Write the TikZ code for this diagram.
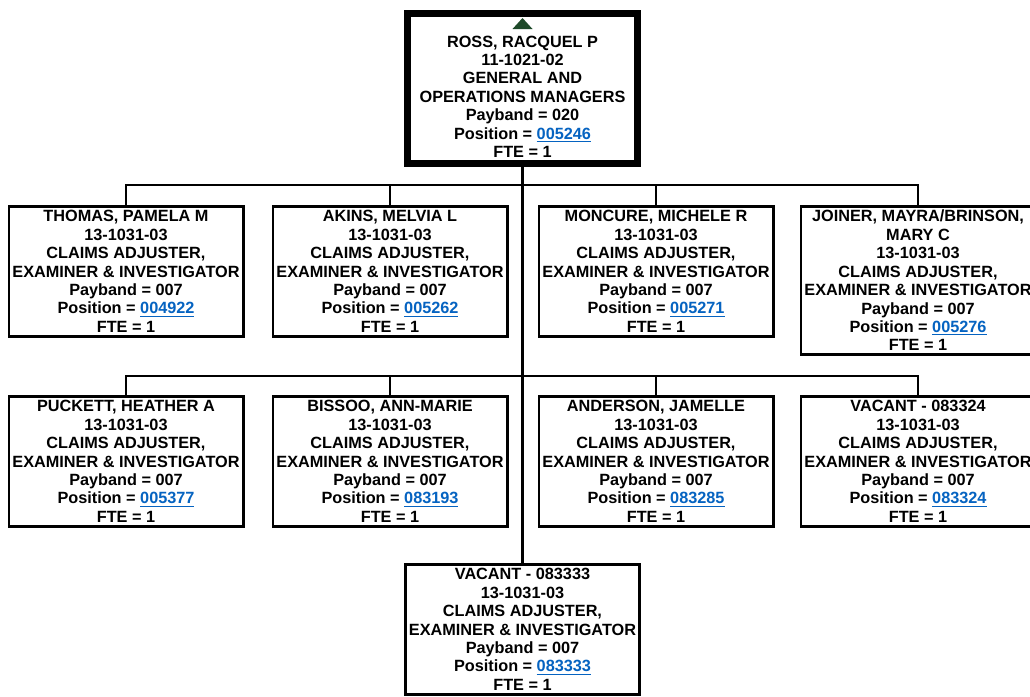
\documentclass[tikz,border=0pt]{standalone}
\usepackage{fontspec}
\setmainfont{Liberation Sans}
\definecolor{linkblue}{HTML}{0563C1}
\definecolor{upmark}{HTML}{1E4A2A}
\newcommand{\posno}[1]{\textcolor{linkblue}{\underline{#1}}}

\begin{document}
\begin{tikzpicture}[x=0.75pt,y=-0.75pt,
  font=\fontsize{12.2}{13.8}\selectfont\bfseries,
  post/.style={draw,line width=2pt,fill=white,align=center,inner sep=0pt,
    minimum width=175.75pt,minimum height=97.75pt,anchor=north},
  wire/.style={line width=1.6pt}]
\useasboundingbox (0,0) rectangle (1030,696);
% manager
\node[post,line width=5.5pt,minimum width=172.25pt,minimum height=112.25pt] (ross) at (522.5,10)
  {\rule{0pt}{7pt}\\ROSS, RACQUEL P\\11-1021-02\\GENERAL AND\\OPERATIONS MANAGERS\\Payband = 020\\Position = \posno{005246}\\FTE = 1};
\fill[upmark] (ross.north) ++(-10,19) -- ++(20,0) -- ++(-10,-11) -- cycle;
% first row
\node[post] (thomas) at (126,205)
  {THOMAS, PAMELA M\\13-1031-03\\CLAIMS ADJUSTER,\\EXAMINER \& INVESTIGATOR\\Payband = 007\\Position = \posno{004922}\\FTE = 1};
\node[post] (akins) at (390,205)
  {AKINS, MELVIA L\\13-1031-03\\CLAIMS ADJUSTER,\\EXAMINER \& INVESTIGATOR\\Payband = 007\\Position = \posno{005262}\\FTE = 1};
\node[post] (moncure) at (656,205)
  {MONCURE, MICHELE R\\13-1031-03\\CLAIMS ADJUSTER,\\EXAMINER \& INVESTIGATOR\\Payband = 007\\Position = \posno{005271}\\FTE = 1};
\node[post,minimum height=111.25pt] (joiner) at (918,205)
  {JOINER, MAYRA/BRINSON,\\MARY C\\13-1031-03\\CLAIMS ADJUSTER,\\EXAMINER \& INVESTIGATOR\\Payband = 007\\Position = \posno{005276}\\FTE = 1};
% second row
\node[post] (puckett) at (126,395)
  {PUCKETT, HEATHER A\\13-1031-03\\CLAIMS ADJUSTER,\\EXAMINER \& INVESTIGATOR\\Payband = 007\\Position = \posno{005377}\\FTE = 1};
\node[post] (bissoo) at (390,395)
  {BISSOO, ANN-MARIE\\13-1031-03\\CLAIMS ADJUSTER,\\EXAMINER \& INVESTIGATOR\\Payband = 007\\Position = \posno{083193}\\FTE = 1};
\node[post] (anderson) at (656,395)
  {ANDERSON, JAMELLE\\13-1031-03\\CLAIMS ADJUSTER,\\EXAMINER \& INVESTIGATOR\\Payband = 007\\Position = \posno{083285}\\FTE = 1};
\node[post] (vacantA) at (918,395)
  {VACANT - 083324\\13-1031-03\\CLAIMS ADJUSTER,\\EXAMINER \& INVESTIGATOR\\Payband = 007\\Position = \posno{083324}\\FTE = 1};
% last one, under the spine
\node[post] (vacantB) at (522.5,563)
  {VACANT - 083333\\13-1031-03\\CLAIMS ADJUSTER,\\EXAMINER \& INVESTIGATOR\\Payband = 007\\Position = \posno{083333}\\FTE = 1};
% connectors
\coordinate (bus1) at (522.5,185);
\coordinate (bus2) at (522.5,376);
\draw[wire] (ross.south) -- (vacantB.north);
\foreach \b in {thomas,akins,moncure,joiner}
  \draw[wire] (\b.north) |- (bus1);
\foreach \b in {puckett,bissoo,anderson,vacantA}
  \draw[wire] (\b.north) |- (bus2);
\end{tikzpicture}
\end{document}
